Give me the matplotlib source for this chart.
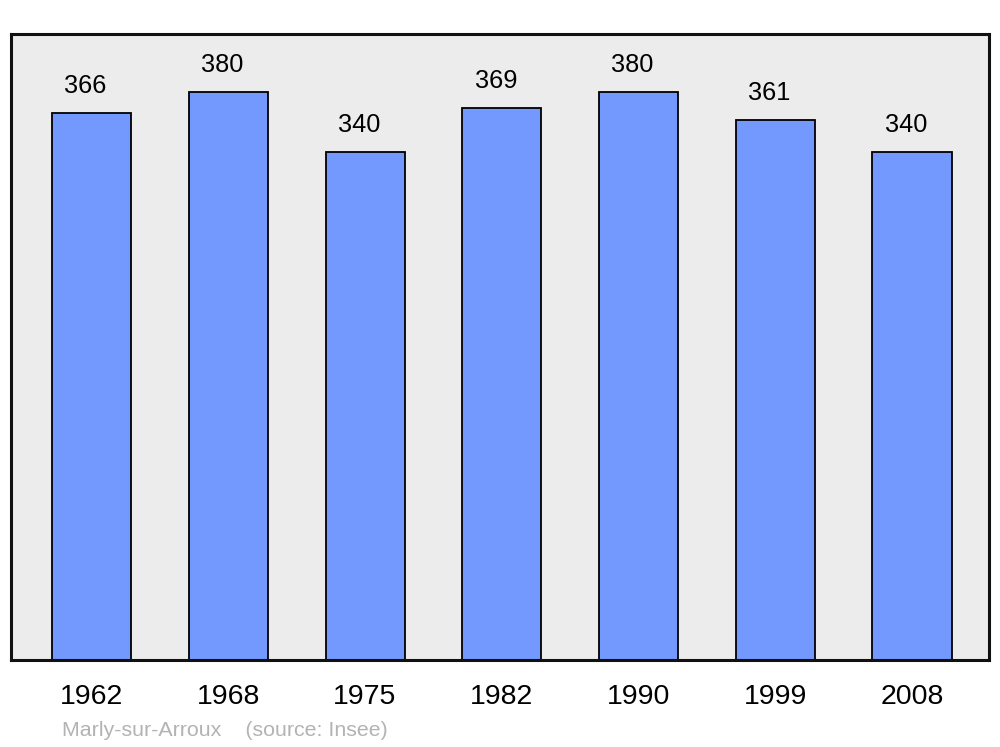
import matplotlib
matplotlib.use("Agg")
from matplotlib import pyplot as plt

years = ["1962", "1968", "1975", "1982", "1990", "1999", "2008"]
population = [366, 380, 340, 369, 380, 361, 340]
footer = "Marly-sur-Arroux    (source: Insee)"

plt.rcParams['font.family'] = ['Liberation Sans', 'DejaVu Sans']

fig = plt.figure(figsize=(10, 7.47), dpi=100)
ax = fig.add_axes([0.011, 0.1165, 0.978, 0.838])
ax.set_facecolor("#ececec")

pos = list(range(len(years)))
bars = ax.bar(pos, population, width=0.578, color="#7399ff",
              edgecolor="black", linewidth=1.3, zorder=2)

for x, v in zip(pos, population):
    ax.annotate(str(v), (x, v), xytext=(-4.3, 19.5), textcoords="offset points",
                ha="center", va="center", fontsize=18.3)

ax.set_xlim(-0.589, 6.563)
ax.set_ylim(0, 418.7)
ax.set_xticks(pos)
ax.set_xticklabels(years, fontsize=20.5)
ax.tick_params(axis="x", length=0, pad=17)
ax.set_yticks([])
for s in ax.spines.values():
    s.set_linewidth(2.2)
    s.set_color("#111111")

fig.text(0.062, 1 - 730 / 747, footer, fontsize=15.4, color="#b3b3b3",
         ha="left", va="center")

fig.savefig("out.png", dpi=100)
